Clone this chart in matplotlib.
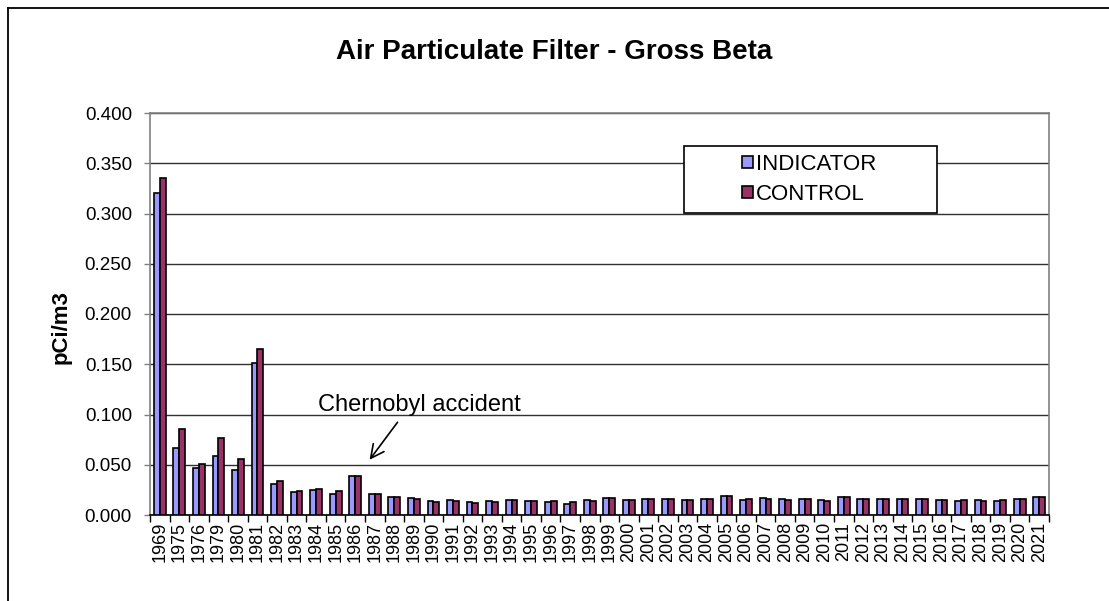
import matplotlib
matplotlib.use("Agg")
import matplotlib.pyplot as plt
from matplotlib.lines import Line2D
from matplotlib.patches import Rectangle
import numpy as np

plt.rcParams['font.family'] = ['Liberation Sans', 'DejaVu Sans']

years = ["1969", "1975", "1976", "1979", "1980", "1981"] + [str(y) for y in range(1982, 2022)]

indicator = [0.320, 0.067, 0.047, 0.059, 0.045, 0.151, 0.031, 0.023, 0.025, 0.021,
             0.039, 0.021, 0.018, 0.017, 0.014, 0.015, 0.013, 0.014, 0.015, 0.014,
             0.013, 0.011, 0.015, 0.017, 0.015, 0.016, 0.016, 0.015, 0.016, 0.019,
             0.015, 0.017, 0.016, 0.016, 0.015, 0.018, 0.016, 0.016, 0.016, 0.016,
             0.015, 0.014, 0.015, 0.014, 0.016, 0.018]
control = [0.335, 0.086, 0.051, 0.077, 0.056, 0.165, 0.034, 0.024, 0.026, 0.024,
           0.039, 0.021, 0.018, 0.016, 0.013, 0.014, 0.012, 0.013, 0.015, 0.014,
           0.014, 0.013, 0.014, 0.017, 0.015, 0.016, 0.016, 0.015, 0.016, 0.019,
           0.016, 0.016, 0.015, 0.016, 0.014, 0.0175, 0.016, 0.016, 0.016, 0.016,
           0.015, 0.015, 0.014, 0.015, 0.016, 0.018]

yticks = [0.0, 0.05, 0.10, 0.15, 0.20, 0.25, 0.30, 0.35, 0.40]

fig = plt.figure(figsize=(11.09, 6.01), dpi=100)
ax = fig.add_axes([150/1109, 86/601, 899/1109, 402/601])

x = np.arange(len(years))
w = 0.3
ax.bar(x - w/2, indicator, w, color='#9999FF', edgecolor='black', linewidth=1.2,
       label='INDICATOR', zorder=3)
ax.bar(x + w/2, control, w, color='#993366', edgecolor='black', linewidth=1.2,
       label='CONTROL', zorder=3)

ax.set_xlim(-0.5, len(years) - 0.5)
ax.set_ylim(0, 0.4)
ax.set_yticks(yticks)
ax.set_yticklabels([f"{v:.3f}" for v in yticks], fontsize=13.5)
ax.yaxis.grid(True, color='#303030', linewidth=1.0, zorder=0)
ax.set_axisbelow(True)

ax.set_xticks(x)
ax.set_xticklabels(years, rotation=90, fontsize=13)
ax.set_xticks(np.arange(-0.5, len(years)), minor=True)
ax.tick_params(axis='x', which='major', length=0, pad=5)
ax.tick_params(axis='x', which='minor', length=5, direction='out', color='black', width=1)
ax.tick_params(axis='y', length=4, direction='out', color='#808080', width=1, pad=9)

for s in ['left', 'right', 'top']:
    ax.spines[s].set_color('#808080')
    ax.spines[s].set_linewidth(1.2)
ax.spines['bottom'].set_color('black')
ax.spines['bottom'].set_linewidth(1.2)

ax.set_ylabel('pCi/m3', fontsize=16, fontweight='bold')
ax.yaxis.set_label_coords((72 - 150)/899, (515 - 327)/402)

# Legend box
box = Rectangle(((684-150)/899, (515-213)/402), (937-684)/899, (213-146)/402,
                transform=ax.transAxes, facecolor='white', edgecolor='black',
                linewidth=1.2, zorder=4)
ax.add_patch(box)
leg = ax.legend(loc='upper left', bbox_to_anchor=((742-150)/899, (515-154)/402),
                fontsize=16, frameon=False, handlelength=0.5, handleheight=0.5,
                handletextpad=0.12, borderpad=0, labelspacing=0.4, borderaxespad=0)
leg.set_zorder(5)

# Annotation
ax.text(13.3, 0.1095, 'Chernobyl accident', fontsize=17, ha='center', va='center')
ax.annotate('', xy=(10.65, 0.0527), xytext=(12.25, 0.0945),
            arrowprops=dict(arrowstyle='->', color='black', lw=1.2, mutation_scale=24))

fig.suptitle('Air Particulate Filter - Gross Beta', fontsize=20, fontweight='bold',
             x=0.5, y=1 - 52/601, va='center')

# Figure border (left and top)
fig.add_artist(Line2D([8/1109, 8/1109], [0, 1 - 8/601], color='black', lw=1.3,
                      transform=fig.transFigure))
fig.add_artist(Line2D([8/1109, 1], [1 - 8/601, 1 - 8/601], color='black', lw=1.3,
                      transform=fig.transFigure))

fig.savefig('out.png', dpi=100)
